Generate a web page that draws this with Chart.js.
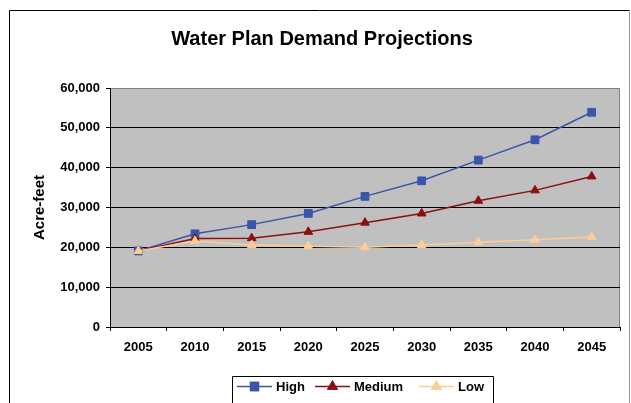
<!DOCTYPE html>
<html>
<head>
<meta charset="utf-8">
<title>Water Plan Demand Projections</title>
<script src="https://cdn.jsdelivr.net/npm/chart.js@4"></script>
<style>
  html, body { margin: 0; padding: 0; background: #ffffff; }
  #wrap { width: 631px; height: 403px; position: relative; }
</style>
</head>
<body>
<div id="wrap"><canvas id="chart" width="631" height="403"></canvas></div>
<script>
// Projection years (category axis)
const years = ['2005', '2010', '2015', '2020', '2025', '2030', '2035', '2040', '2045'];

// Demand projections in acre-feet
const highDemand   = [19100, 23400, 25700, 28500, 32800, 36700, 41900, 47000, 53900];
const mediumDemand = [19100, 22200, 22300, 23900, 26200, 28500, 31700, 34300, 37800];
const lowDemand    = [19100, 21600, 20600, 20300, 20000, 20600, 21300, 21900, 22600];

// Value axis tick values
const yTicks = [0, 10000, 20000, 30000, 40000, 50000, 60000];

const seriesNames = ['High', 'Medium', 'Low'];
const FONT = '"Liberation Sans", Arial, sans-serif';

// Frame, title, plot background and legend box
const decor = {
  id: 'decor',
  beforeDraw(chart) {
    const { ctx, chartArea: a } = chart;
    ctx.save();
    ctx.fillStyle = '#ffffff';
    ctx.fillRect(0, 0, chart.width, chart.height);
    // outer chart frame
    ctx.strokeStyle = '#000000';
    ctx.lineWidth = 1;
    ctx.beginPath();
    ctx.moveTo(9.5, 410);
    ctx.lineTo(9.5, 10.5);
    ctx.lineTo(629.5, 10.5);
    ctx.stroke();
    ctx.strokeStyle = '#9a9a9a';
    ctx.beginPath();
    ctx.moveTo(629.5, 10.5);
    ctx.lineTo(629.5, 410);
    ctx.stroke();
    // plot area fill
    ctx.fillStyle = '#c0c0c0';
    ctx.fillRect(a.left, a.top, a.right - a.left, a.bottom - a.top);
    ctx.strokeStyle = '#808080';
    ctx.beginPath();
    ctx.moveTo(a.left, a.top + 0.5);
    ctx.lineTo(a.right - 0.5, a.top + 0.5);
    ctx.lineTo(a.right - 0.5, a.bottom);
    ctx.stroke();
    // title
    ctx.fillStyle = '#000000';
    ctx.font = 'bold 20px ' + FONT;
    ctx.textAlign = 'center';
    ctx.textBaseline = 'middle';
    ctx.fillText('Water Plan Demand Projections', 322, 39);
    ctx.restore();
  },
  afterDraw(chart) {
    const { ctx } = chart;
    ctx.save();
    // legend box
    ctx.strokeStyle = '#000000';
    ctx.lineWidth = 1;
    ctx.beginPath();
    ctx.moveTo(232.5, 410);
    ctx.lineTo(232.5, 376.5);
    ctx.lineTo(493.5, 376.5);
    ctx.lineTo(493.5, 410);
    ctx.stroke();
    const startX = [237, 315, 419];
    const y = 386;
    ctx.font = 'bold 13px ' + FONT;
    ctx.textBaseline = 'middle';
    ctx.textAlign = 'left';
    chart.data.datasets.forEach((ds, i) => {
      const x0 = startX[i];
      ctx.strokeStyle = ds.borderColor;
      ctx.lineWidth = 1.5;
      ctx.beginPath();
      ctx.moveTo(x0, y + 0.5);
      ctx.lineTo(x0 + 35, y + 0.5);
      ctx.stroke();
      Chart.helpers.drawPoint(ctx, {
        pointStyle: ds.pointStyle,
        radius: ds.pointRadius,
        rotation: 0,
        borderWidth: 1
      }, x0 + 17.5, y + 0.5);
      ctx.fillStyle = ds.pointBackgroundColor;
      ctx.strokeStyle = ds.pointBorderColor;
      ctx.fill();
      ctx.stroke();
      ctx.fillStyle = '#000000';
      ctx.fillText(ds.label, x0 + 39, y + 1);
    });
    ctx.restore();
  }
};

function series(label, values, color, style, radius, order) {
  return {
    label, data: values, order,
    borderColor: color, borderWidth: 1.5,
    pointStyle: style, pointRadius: radius, pointHoverRadius: radius,
    pointBackgroundColor: color, pointBorderColor: color, pointBorderWidth: 1,
    tension: 0, fill: false
  };
}

new Chart(document.getElementById('chart'), {
  type: 'line',
  data: {
    labels: years,
    datasets: [
      series(seriesNames[0], highDemand, '#3a56ab', 'rect', 5.5, 2),
      series(seriesNames[1], mediumDemand, '#8b0f0f', 'triangle', 5, 1),
      series(seriesNames[2], lowDemand, '#ffcc99', 'triangle', 5, 0)
    ]
  },
  options: {
    responsive: false,
    animation: false,
    devicePixelRatio: 1,
    layout: { padding: { top: 88, right: 11, bottom: 36, left: 0 } },
    plugins: {
      legend: { display: false },
      title: { display: false },
      tooltip: { enabled: false }
    },
    scales: {
      x: {
        type: 'category',
        offset: true,
        grid: {
          offset: true,
          drawOnChartArea: false,
          drawTicks: true,
          tickLength: 4,
          color: '#000000'
        },
        border: { display: true, color: '#000000', width: 1 },
        ticks: {
          color: '#000000',
          font: { family: FONT, size: 13, weight: 'bold' },
          padding: 9,
          maxRotation: 0
        },
        afterFit(scale) { scale.height = 40; }
      },
      y: {
        min: 0,
        max: 60000,
        afterBuildTicks(scale) { scale.ticks = yTicks.map(v => ({ value: v })); },
        grid: {
          color: (c) => (c.tick && c.tick.value === 60000 ? 'rgba(0,0,0,0)' : '#000000'),
          tickColor: '#000000',
          lineWidth: 1,
          tickLength: 4
        },
        border: { display: true, color: '#000000', width: 1 },
        ticks: {
          color: '#000000',
          font: { family: FONT, size: 13, weight: 'bold' },
          padding: 6,
          callback: (v) => Number(v).toLocaleString('en-US')
        },
        title: {
          display: true,
          text: 'Acre-feet',
          color: '#000000',
          font: { family: FONT, size: 15, weight: 'bold' },
          padding: { top: 31, bottom: 0 }
        },
        afterFit(scale) { scale.width = 110; }
      }
    }
  },
  plugins: [decor]
});
</script>
</body>
</html>
